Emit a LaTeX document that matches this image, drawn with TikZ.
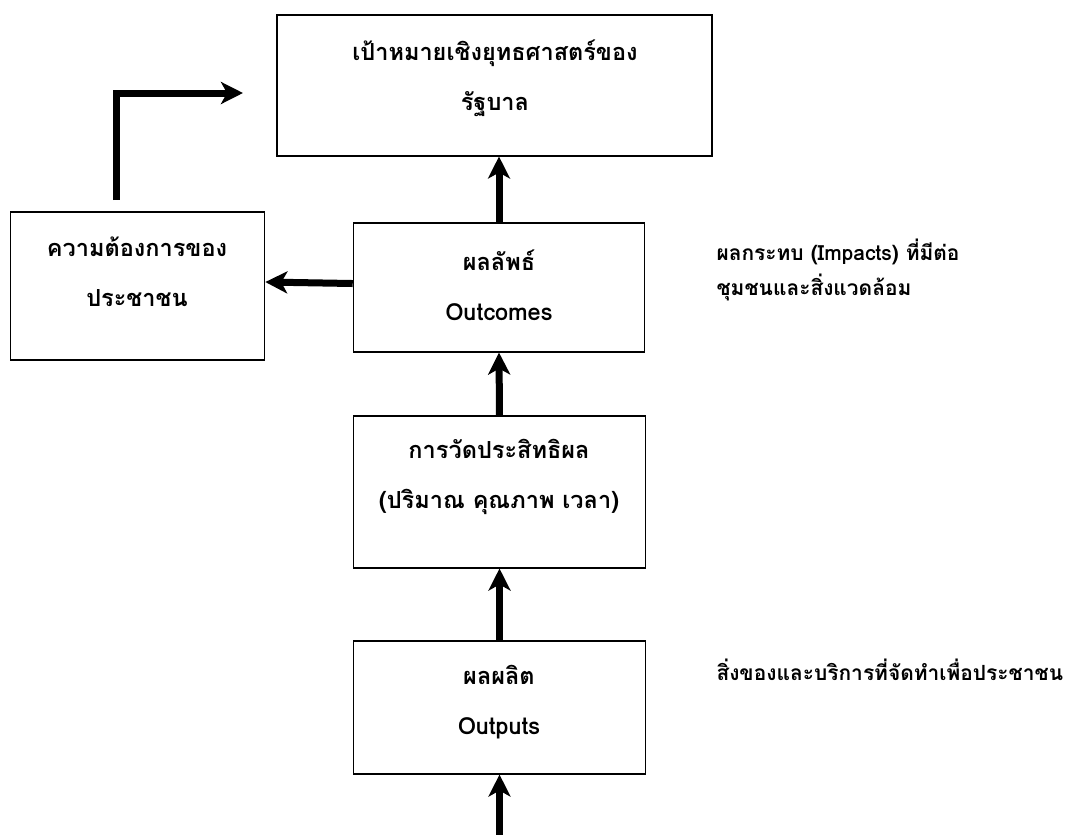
\documentclass[tikz,border=0pt]{standalone}
\usepackage{fontspec}
\setmainfont[Script=Thai]{Loma}
\usetikzlibrary{arrows.meta}

\begin{document}
\begin{tikzpicture}[x=1bp,y=-1bp,
  box/.style={draw,line width=1.6bp,inner sep=0pt},
  boxtext/.style={align=center,font=\fontsize{23.6}{50}\selectfont\bfseries},
  sidetext/.style={anchor=west,align=left,font=\fontsize{21}{35}\selectfont\bfseries},
  flow/.style={line width=7bp,-{Stealth[length=22bp,width=22bp,inset=6bp]}}]
  \useasboundingbox (0,0) rectangle (1067,835);

  \node[box,minimum width=437,minimum height=141] (goal) at (494.5,85.5) {};
  \node[box,minimum width=255,minimum height=148] (need) at (137.5,286) {};
  \node[box,minimum width=292,minimum height=129] (outcome) at (499,287.5) {};
  \node[box,minimum width=293,minimum height=152] (effect) at (499.5,492) {};
  \node[box,minimum width=293,minimum height=133] (output) at (499.5,707.5) {};

  \node[boxtext] (goaltext) at (495,78) {เป้าหมายเชิงยุทธศาสตร์ของ\\รัฐบาล};
  \node[boxtext] (needtext) at (137,272) {ความต้องการของ\\ประชาชน};
  \node[boxtext] (outcometext) at (499,285) {ผลลัพธ์\\Outcomes};
  \node[boxtext] (effecttext) at (499,477) {การวัดประสิทธิผล\\(ปริมาณ คุณภาพ เวลา)};
  \node[boxtext] (outputtext) at (499,702) {ผลผลิต\\Outputs};

  \node[sidetext] (impacts) at (713,270) {ผลกระทบ (Impacts) ที่มีต่อ\\ชุมชนและสิ่งแวดล้อม};
  \node[sidetext] (services) at (713,670) {สิ่งของและบริการที่จัดทำเพื่อประชาชน};

  \coordinate (feed) at (499.5,835);
  \coordinate (rise) at (116,200);
  \coordinate (reach) at (243,93);

  \draw[flow] (outcome.north) -- (outcome.north |- goal.south);
  \draw[flow] (effect.north) -- (outcome.south);
  \draw[flow] (output.north) -- (effect.south);
  \draw[flow] (feed) -- (output.south);
  \draw[flow] ([yshift=4]outcome.west) -- ([yshift=4]need.east);
  \draw[flow] (rise) |- (reach);
\end{tikzpicture}
\end{document}
